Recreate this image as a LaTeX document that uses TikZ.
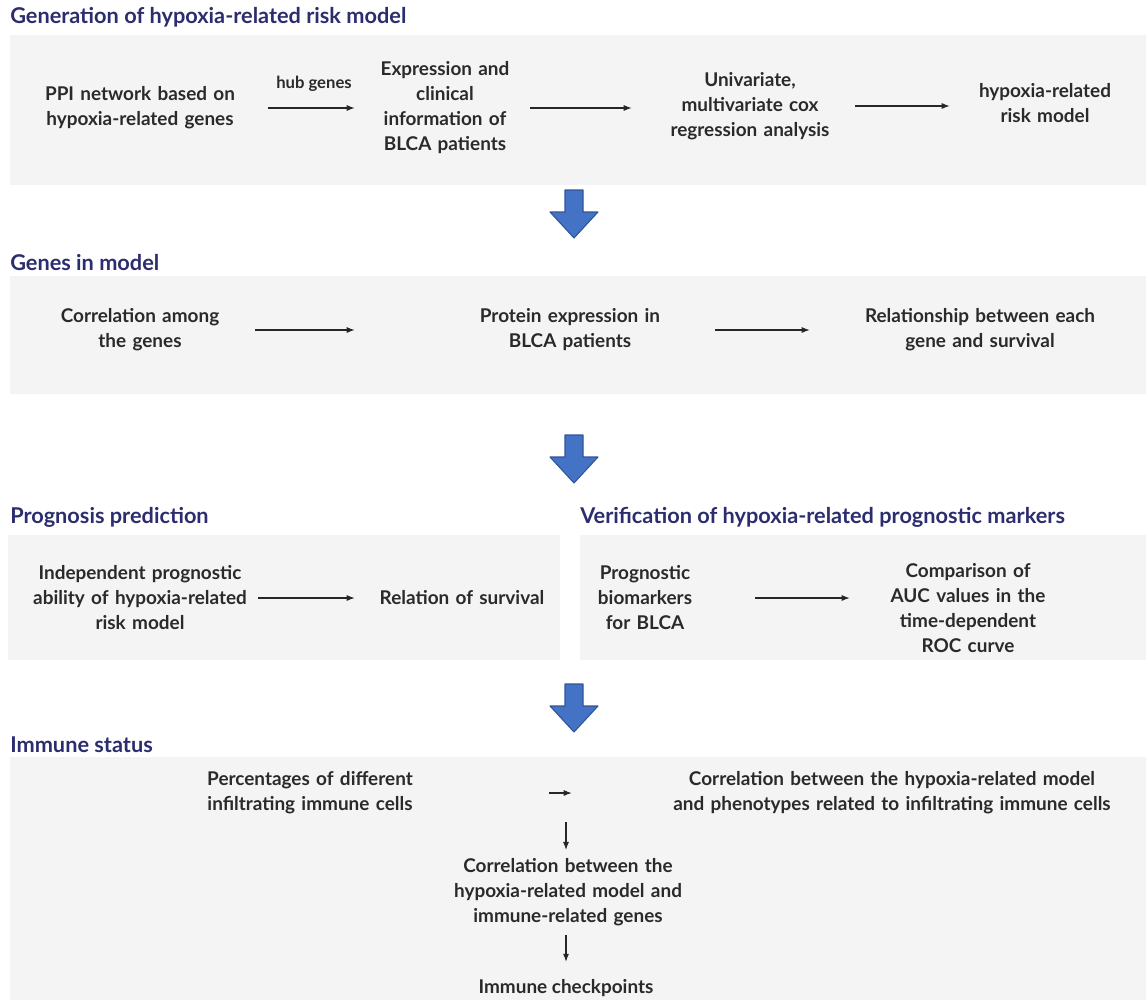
\documentclass[tikz,border=0pt]{standalone}
\usepackage{fontspec}
\setmainfont{Lato}
\usetikzlibrary{arrows.meta}
\definecolor{headblue}{HTML}{2B2D6E}
\definecolor{panelgray}{HTML}{F4F4F4}
\definecolor{txtgray}{HTML}{2A2A2A}
\definecolor{arrblue}{HTML}{4472C4}
\definecolor{arredge}{HTML}{2F5597}
\begin{document}
\begin{tikzpicture}[x=0.75pt,y=-0.75pt,
    panel/.style={fill=panelgray},
    head/.style={anchor=west,inner sep=0,text=headblue,font=\fontsize{16.3}{19}\selectfont\bfseries},
    txt/.style={align=center,inner sep=0,text=txtgray,font=\fontsize{14.2}{18.75}\selectfont\bfseries},
    flow/.style={-{Latex[length=6pt,width=4.5pt]},black!85,line width=0.8pt},
    bigarr/.style={fill=arrblue,draw=arredge,line width=0.8pt,line join=round}]
  \useasboundingbox (0,0) rectangle (1146,1000);

  % generation of the risk model
  \node[head] (t1) at (10,17) {Generation of hypoxia-related risk model};
  \fill[panel] (10,35) rectangle (1146,185);
  \node[txt,text width=192pt] (ppi) at (140,108) {PPI network based on\\hypoxia-related genes};
  \node[txt,text width=127.5pt] (expr) at (445,108) {Expression and\\clinical\\information of\\BLCA patients};
  \node[txt,text width=157.5pt] (uni) at (750,106) {Univariate,\\multivariate cox\\regression analysis};
  \node[txt,text width=142.5pt] (risk) at (1045,103) {hypoxia-related\\risk model};
  \draw[flow,shorten >=3.75pt] (ppi) -- node[txt,above=12pt,font=\fontsize{12.5}{15}\selectfont\bfseries] (hub) {hub genes} (expr);
  \draw[flow,shorten >=9.75pt] (expr.east) -- (expr.east -| uni.west);
  \draw[flow] (uni.east) -- (uni.east -| risk.west);

  % genes in model
  \node[head] (t2) at (10,263) {Genes in model};
  \fill[panel] (10,276) rectangle (1146,394);
  \node[txt,text width=172.5pt] (corr) at (140,330) {Correlation among\\the genes};
  \node[txt,text width=217.5pt] (prot) at (570,330) {Protein expression in\\BLCA patients};
  \node[txt,text width=255pt] (rel) at (980,330) {Relationship between each\\gene and survival};
  \draw[flow,shorten >=52.5pt] (corr) -- (prot);
  \draw[flow] (prot) -- (rel);

  % prognosis and verification
  \node[head] (t3) at (10,517) {Prognosis prediction};
  \node[head] (t4) at (580,517) {Verification of hypoxia-related prognostic markers};
  \fill[panel] (8,535) rectangle (560,660);
  \fill[panel] (580,535) rectangle (1146,660);
  \node[txt,text width=177pt] (indep) at (140,598) {Independent prognostic\\ability of hypoxia-related\\risk model};
  \node[txt,text width=160.5pt] (surv) at (462,598) {Relation of survival};
  \draw[flow] (indep) -- (surv);
  \node[txt,text width=165pt] (prog) at (645,598) {Prognostic\\biomarkers\\for BLCA};
  \node[txt,text width=177pt] (auc) at (968,608) {Comparison of\\AUC values in the\\time-dependent\\ROC curve};
  \draw[flow] (prog) -- (prog -| auc.west);

  % immune status
  \node[head] (t5) at (10,745) {Immune status};
  \fill[panel] (10,757) rectangle (1146,1000);
  \node[txt,text width=358.5pt] (perc) at (310,793) {Percentages of different\\infiltrating immune cells};
  \node[txt,text width=480pt] (pheno) at (892,793) {Correlation between the hypoxia-related model\\and phenotypes related to infiltrating immune cells};
  \draw[flow] (perc) -- (pheno);
  \coordinate (branch) at (566,822);
  \node[txt,text width=300pt] (corr2) at (568,892) {Correlation between the\\hypoxia-related model and\\immune-related genes};
  \node[txt] (chk) at (566,988) {Immune checkpoints};
  \draw[flow,shorten >=6pt] (branch) -- (branch |- corr2.north);
  \draw[flow,shorten <=7pt,shorten >=13pt] (corr2.south -| branch) -- (branch |- chk.north);

  % big arrows between the stages
  \foreach \y in {190,435,684}{
    \filldraw[bigarr] (565,\y) -- (583,\y) -- (583,\y+22) -- (598,\y+22) -- (574,\y+48)
      -- (550,\y+22) -- (565,\y+22) -- cycle;
  }
\end{tikzpicture}
\end{document}
